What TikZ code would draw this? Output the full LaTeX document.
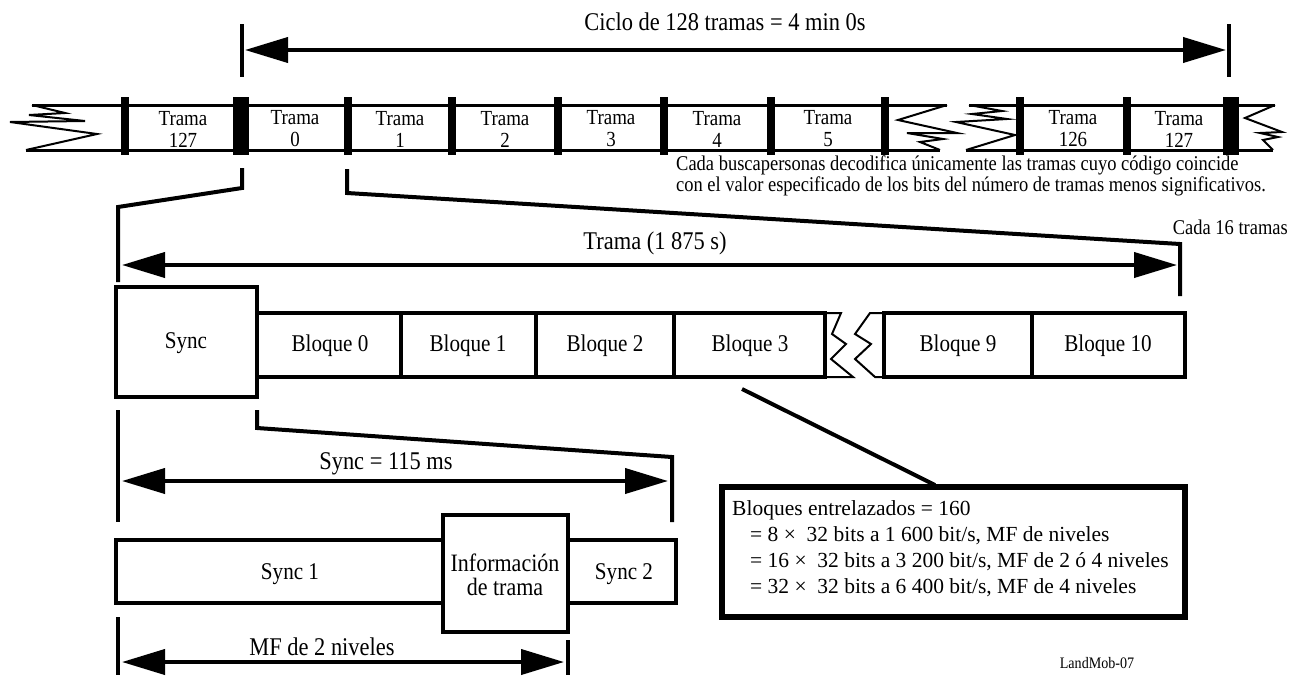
\documentclass[tikz,border=0pt]{standalone}
\usepackage{fontspec}
\setmainfont{Liberation Serif}[FakeStretch=0.88]
\newfontfamily\plainserif{Liberation Serif}
\usetikzlibrary{arrows.meta}
\tikzset{
  bigarrow/.style={line width=4pt, {Triangle[length=43pt,width=25pt]}-{Triangle[length=43pt,width=25pt]}},
  tickline/.style={line width=4pt},
  funnel/.style={line width=4pt, line join=miter},
  barline/.style={line width=3pt},
  sepbar/.style={fill=black, draw=none},
  zz/.style={line width=2pt, line join=miter},
  boxline/.style={line width=3.5pt},
  lbl/.style={font=\fontsize{25.5}{28}\selectfont, inner sep=0pt},
  cell/.style={font=\fontsize{21.5}{22}\selectfont, align=center, inner sep=0pt},
  blk/.style={font=\fontsize{24}{27}\selectfont, inner sep=0pt},
  note/.style={font=\fontsize{21}{20.5}\selectfont, inner sep=0pt, align=left},
  boxtxt/.style={font=\plainserif\fontsize{21.5}{26}\selectfont, inner sep=0pt, anchor=west},
}
\begin{document}
\begin{tikzpicture}[x=1pt,y=-1pt]
\useasboundingbox (0,0) rectangle (1289,675);
% ---------- top cycle arrow ----------
\coordinate (cL) at (242,50); \coordinate (cR) at (1229,50);
\draw[tickline] (242,24) -- (242,77);
\draw[tickline] (1229,24) -- (1229,77);
\draw[bigarrow] ([xshift=3pt]cL) -- ([xshift=-3pt]cR);
\node[lbl] (ciclo) at (725,22) {Ciclo de 128 tramas = 4 min 0s};
% ---------- frame bar ----------
\draw[barline] (32,105) -- (947,105);
\draw[barline] (26,150) -- (940,150);
\draw[barline] (969,105) -- (1275,105);
\draw[barline] (966,150) -- (1273,150);
\foreach \x in {125,348,452,558,664,771,885,1020,1127}
  \fill[sepbar] (\x-4,97) rectangle (\x+4,155);
\foreach \x in {241,1231}
  \fill[sepbar] (\x-8,97) rectangle (\x+8,155);
% zigzags
\draw[zz] (32,105) -- (65,113) -- (29,115) -- (85,121) -- (10,122) -- (97,134) -- (26,150);
\draw[zz] (947,105) -- (898,120) -- (957,133) -- (907,133) -- (943,139) -- (920,142) -- (940,150);
\draw[zz] (969,105) -- (1002,111) -- (972,114) -- (1007,119) -- (956,122) -- (1015,135) -- (966,150);
\draw[zz] (1275,105) -- (1245,118) -- (1282,132) -- (1260,133) -- (1278,137) -- (1263,140) -- (1273,150);
% frame labels
\node[cell] (t127a) at (183,129) {Trama\\127};
\node[cell] (t0) at (295,129) {Trama\\0};
\node[cell] (t1) at (400,129) {Trama\\1};
\node[cell] (t2) at (505,129) {Trama\\2};
\node[cell] (t3) at (611,129) {Trama\\3};
\node[cell] (t4) at (717,129) {Trama\\4};
\node[cell] (t5) at (828,129) {Trama\\5};
\node[cell] (t126) at (1073,129) {Trama\\126};
\node[cell] (t127b) at (1179,129) {Trama\\127};
% notes
\node[note, anchor=west] (cada) at (676,176) {Cada buscapersonas decodifica únicamente las tramas cuyo código coincide\\con el valor especificado de los bits del número de tramas menos significativos.};
\node[note, anchor=east] (c16) at (1288,227) {Cada 16 tramas};
% ---------- funnel 1 ----------
\coordinate (f1a) at (242,168); \coordinate (f1b) at (118,282);
\coordinate (f1c) at (347,169); \coordinate (f1d) at (1180,296);
\draw[funnel] (f1a) -- (242,188) -- (118,207) -- (f1b);
\draw[funnel] (f1c) -- (347,193) -- (1180,244) -- (f1d);
\coordinate (tL) at (122,265); \coordinate (tR) at (1177,265);
\draw[bigarrow] (tL) -- (tR);
\node[lbl] (tramalbl) at (655,243) {Trama (1 875 s)};
% ---------- frame structure ----------
\draw[boxline] (116,287) rectangle (257,397);
\node[blk] (sync) at (186,343) {Sync};
\draw[boxline] (257,313) rectangle (825,377);
\foreach \x in {401,536,674} \draw[boxline] (\x,313) -- (\x,377);
\draw[zz] (825,313) -- (841,313) -- (832,334) -- (846,344) -- (831,359) -- (853,377) -- (825,377);
\draw[zz] (884,313) -- (870,313) -- (855,334) -- (871,344) -- (855,359) -- (875,377) -- (884,377);
\draw[boxline] (884,313) rectangle (1185,377);
\draw[boxline] (1032,313) -- (1032,377);
\node[blk] (b0) at (330,346) {Bloque 0};
\node[blk] (b1) at (468,346) {Bloque 1};
\node[blk] (b2) at (605,346) {Bloque 2};
\node[blk] (b3) at (750,346) {Bloque 3};
\node[blk] (b9) at (958,346) {Bloque 9};
\node[blk] (b10) at (1108,346) {Bloque 10};
% ---------- interleave box ----------
\node[draw, line width=5.5pt, minimum width=463pt, minimum height=130pt, inner sep=0pt] (ibox) at (953.5,552) {};
\coordinate (d1) at (742,389);
\draw[line width=4pt] (d1) -- (935,485);
\node[boxtxt] (l1) at (732,510) {Bloques entrelazados = 160};
\node[boxtxt] (l2) at (750,536) {= 8 ×~~32 bits a 1 600 bit/s, MF de niveles};
\node[boxtxt] (l3) at (750,562) {= 16 ×~~32 bits a 3 200 bit/s, MF de 2 ó 4 niveles};
\node[boxtxt] (l4) at (750,588) {= 32 ×~~32 bits a 6 400 bit/s, MF de 4 niveles};
% ---------- funnel 2 ----------
\coordinate (f2a) at (118,410); \coordinate (f2b) at (118,522);
\coordinate (f2c) at (257,410); \coordinate (f2d) at (672,522);
\draw[funnel] (f2a) -- (f2b);
\draw[funnel] (f2c) -- (257,428) -- (672,457) -- (f2d);
\coordinate (sL) at (122,481); \coordinate (sR) at (668,481);
\draw[bigarrow] (sL) -- (sR);
\node[lbl] (synclbl) at (386,464) {Sync = 115 ms};
% ---------- sync structure ----------
\draw[boxline] (116,540) rectangle (676,603);
\node[draw, boxline, fill=white, minimum width=125pt, minimum height=117pt, inner sep=0pt] (info) at (505.5,573.5) {};
\node[blk, align=center, font=\fontsize{25}{24}\selectfont] (infotxt) at (505,575) {Información\\de trama};
\node[blk] (s1) at (290,574) {Sync 1};
\node[blk] (s2) at (624,574) {Sync 2};
% ---------- bottom arrow ----------
\draw[tickline] (118,617) -- (118,675);
\draw[tickline] (568,640) -- (568,675);
\coordinate (mL) at (122,662); \coordinate (mR) at (564,662);
\draw[bigarrow] (mL) -- (mR);
\node[lbl] (mflbl) at (322,647) {MF de 2 niveles};
\node[font=\fontsize{16}{18}\selectfont, inner sep=0pt] (ref) at (1097,663) {LandMob-07};
\end{tikzpicture}
\end{document}
